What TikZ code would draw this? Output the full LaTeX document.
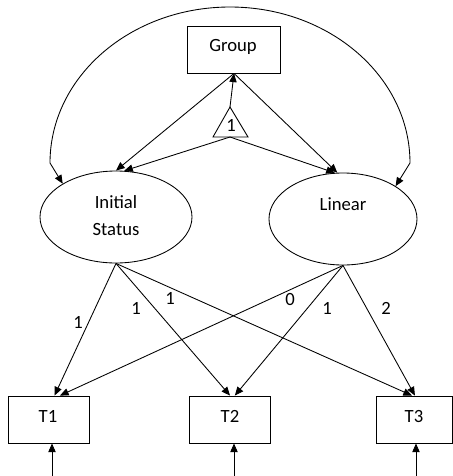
\documentclass[tikz,border=0pt]{standalone}
\usepackage{fontspec}
\setmainfont{Carlito}
\usetikzlibrary{arrows.meta,calc,shapes.geometric}
\begin{document}
\begin{tikzpicture}[x=0.75pt,y=-0.75pt,
  line width=0.65pt,
  arr/.style={-{Triangle[length=6.5pt,width=5.5pt]}},
  box/.style={draw,rectangle,minimum height=35.25pt,inner sep=0pt},
  lat/.style={draw,ellipse,minimum height=69pt,inner sep=0pt},
  txt/.style={inner sep=0pt,font=\fontsize{14}{17}\selectfont},
  lbl/.style={inner sep=0pt,font=\fontsize{14}{17}\selectfont}]
\useasboundingbox (0,0) rectangle (453,476);
% nodes
\node[box,minimum width=69.75pt] (group) at (234,49.5) {};
\node[txt,anchor=base] (grouptxt) at (233,51) {Group};
\node[lat,minimum width=114pt] (is) at (116,217) {};
\node[txt,anchor=base] (istxt1) at (116,208) {Initial};
\node[txt,anchor=base] (istxt2) at (116,235) {Status};
\node[lat,minimum width=111pt] (lin) at (343,219) {};
\node[txt,anchor=base] (lintxt) at (343,210) {Linear};
\node[box,minimum width=60.75pt] (t1) at (48.5,419.5) {};
\node[box,minimum width=60.75pt] (t2) at (229.5,419.5) {};
\node[box,minimum width=57pt] (t3) at (414,419.5) {};
\node[txt,anchor=base] (t1txt) at (48,422) {T1};
\node[txt,anchor=base] (t2txt) at (230,422) {T2};
\node[txt,anchor=base] (t3txt) at (414,422) {T3};
% triangle constant
\coordinate (apex) at (230,107);
\coordinate (tbl) at (213,137);
\coordinate (tbr) at (248,137);
\coordinate (tbase) at (230,137);
\draw (apex) -- (tbl) -- (tbr) -- cycle;
\node[lbl] (one) at (231,125) {1};
% arrows from triangle and group
\draw[arr] (apex) -- (group.south);
\draw[arr] (group.south) -- (is.north);
\draw[arr] (group.south) -- (lin.97);
\draw[arr] (tbase) -- (is.80);
\draw[arr] (tbase) -- (lin.100);
% covariance arc
\coordinate (al) at (50,163);
\coordinate (atop) at (230,7);
\coordinate (ar) at (410,163);
\draw[{Triangle[length=6.5pt,width=5.5pt]}-{Triangle[length=6.5pt,width=5.5pt]}]
  (is.148) -- (al) .. controls (50,76.8) and (130.6,7) .. (atop)
  .. controls (329.4,7) and (410,76.8) .. (ar) -- (lin.32);
% loadings
\draw[arr] (is.south) -- ([xshift=4.5pt]t1.north);
\draw[arr] (is.south) -- ([xshift=0.4pt]t2.north);
\draw[arr] (is.south) -- ([xshift=-1.5pt]t3.north);
\draw[arr] (lin.south) -- ([xshift=8.6pt]t1.north);
\draw[arr] (lin.south) -- ([xshift=4pt]t2.north);
\draw[arr] (lin.south) -- ([xshift=0.7pt]t3.north);
% loading labels
\node[lbl] (l1) at (78,322) {1};
\node[lbl] (l2) at (136,308) {1};
\node[lbl] (l3) at (170,298) {1};
\node[lbl] (l4) at (290,300) {0};
\node[lbl] (l5) at (327,308) {1};
\node[lbl] (l6) at (386,308) {2};
% residual arrows
\coordinate (e1) at (52,476);
\coordinate (e2) at (234,476);
\coordinate (e3) at (416,476);
\draw[arr] (e1) -- (e1 |- t1.south);
\draw[arr] (e2) -- (e2 |- t2.south);
\draw[arr] (e3) -- (e3 |- t3.south);
\end{tikzpicture}
\end{document}
